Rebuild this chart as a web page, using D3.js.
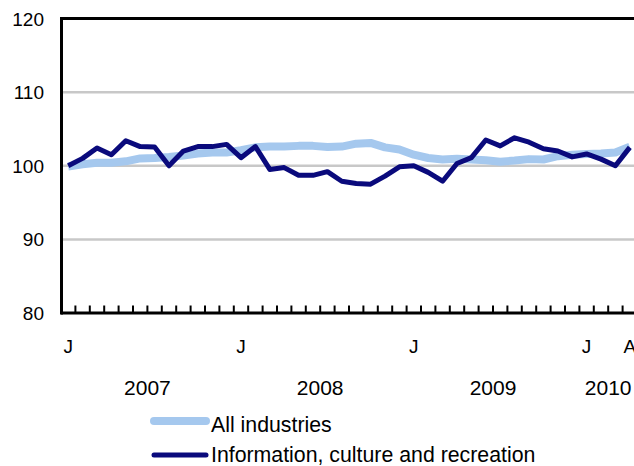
<!DOCTYPE html>
<html>
<head>
<meta charset="utf-8">
<script src="https://cdn.jsdelivr.net/npm/d3@7"></script>
<style>
  html, body { margin: 0; padding: 0; background: #fff; }
  svg { display: block; }
  text { font-family: "Liberation Sans", Arial, Helvetica, sans-serif; fill: #000; }
</style>
</head>
<body>
<svg id="chart" width="634" height="466"></svg>
<script>
// ---- Data ----
const months = [
  "2007-01","2007-02","2007-03","2007-04","2007-05","2007-06","2007-07","2007-08","2007-09","2007-10","2007-11","2007-12",
  "2008-01","2008-02","2008-03","2008-04","2008-05","2008-06","2008-07","2008-08","2008-09","2008-10","2008-11","2008-12",
  "2009-01","2009-02","2009-03","2009-04","2009-05","2009-06","2009-07","2009-08","2009-09","2009-10","2009-11","2009-12",
  "2010-01","2010-02","2010-03","2010-04"
];
const allIndustries = [
  99.9, 100.2, 100.4, 100.4, 100.6, 101.0, 101.05, 101.2, 101.4, 101.65, 101.8, 101.8,
  102.1, 102.5, 102.6, 102.6, 102.7, 102.7, 102.55, 102.6, 103.0, 103.1, 102.5, 102.2,
  101.5, 101.05, 100.85, 100.95, 100.85, 100.75, 100.55, 100.7, 100.9, 100.85, 101.3, 101.5,
  101.6, 101.65, 101.8, 102.6
];
const infoCultureRecreation = [
  100.0, 101.0, 102.4, 101.5, 103.4, 102.6, 102.55, 100.0, 102.0, 102.6, 102.6, 102.9,
  101.1, 102.6, 99.5, 99.75, 98.7, 98.7, 99.2, 97.9, 97.6, 97.5, 98.6, 99.85,
  100.0, 99.1, 97.9, 100.3, 101.1, 103.5, 102.7, 103.8, 103.2, 102.3, 102.0, 101.2,
  101.6, 100.9, 100.0, 102.5
];
const yTicks = [80, 90, 100, 110, 120];
const labelledMonths = ["2007-01", "2008-01", "2009-01", "2010-01", "2010-04"];
const labelledMonthText = ["J", "J", "J", "J", "A"];
const years = ["2007", "2008", "2009", "2010"];
const seriesNames = ["All industries", "Information, culture and recreation"];
const seriesColors = ["#a5c8ee", "#0a0a7c"];

// ---- Layout ----
const svg = d3.select("#chart");
const plotLeft = 61, bandW = 14.4;
const plotRight = plotLeft + months.length * bandW;
const plotTop = 18.5, plotBottom = 313;

const x = d3.scaleBand().domain(months).range([plotLeft, plotRight]).padding(0);
const y = d3.scaleLinear().domain([80, 120]).range([plotBottom, plotTop]);
const cx = m => x(m) + x.bandwidth() / 2;

// gridlines
svg.append("g").selectAll("line")
  .data(yTicks.filter(t => t > 80 && t < 120))
  .join("line")
  .attr("x1", plotLeft).attr("x2", plotRight)
  .attr("y1", d => y(d)).attr("y2", d => y(d))
  .attr("stroke", "#c8c8c8").attr("stroke-width", 2.5);

// top border
svg.append("line")
  .attr("x1", plotLeft).attr("x2", plotRight)
  .attr("y1", y(120)).attr("y2", y(120))
  .attr("stroke", "#000").attr("stroke-width", 3);

// y labels
svg.append("g").selectAll("text")
  .data(yTicks).join("text")
  .attr("x", 44).attr("y", d => y(d) + 7)
  .attr("text-anchor", "end")
  .style("font-size", "19px")
  .text(d => d);

// series lines
const lineGen = d3.line().x((d, i) => cx(months[i])).y(d => y(d));
[allIndustries, infoCultureRecreation].forEach((s, k) => {
  svg.append("path")
    .datum(s)
    .attr("d", lineGen)
    .attr("fill", "none")
    .attr("stroke", seriesColors[k])
    .attr("stroke-width", k === 0 ? 8 : 5)
    .attr("stroke-linejoin", "round");
});

// x ticks (band boundaries, pointing up)
svg.append("g").selectAll("line")
  .data(months.slice(1))
  .join("line")
  .attr("x1", d => x(d)).attr("x2", d => x(d))
  .attr("y1", plotBottom).attr("y2", plotBottom - 7.5)
  .attr("stroke", "#000").attr("stroke-width", 2);

// axes lines
svg.append("line")
  .attr("x1", plotLeft).attr("x2", plotRight)
  .attr("y1", plotBottom).attr("y2", plotBottom)
  .attr("stroke", "#000").attr("stroke-width", 3);
svg.append("line")
  .attr("x1", plotLeft + 0.5).attr("x2", plotLeft + 0.5)
  .attr("y1", plotTop - 1.5).attr("y2", plotBottom + 1.5)
  .attr("stroke", "#000").attr("stroke-width", 3);

// month labels
svg.append("g").selectAll("text")
  .data(labelledMonths).join("text")
  .attr("x", d => cx(d)).attr("y", 353)
  .attr("text-anchor", "middle")
  .style("font-size", "19px")
  .text((d, i) => labelledMonthText[i]);

// year labels
svg.append("g").selectAll("text")
  .data(years).join("text")
  .attr("x", yr => {
    const ms = months.filter(m => m.startsWith(yr));
    return (x(ms[0]) + x(ms[ms.length - 1]) + x.bandwidth()) / 2;
  })
  .attr("y", 395)
  .attr("text-anchor", "middle")
  .style("font-size", "21px")
  .text(d => d);

// legend
const legY = [421, 455];
seriesNames.forEach((name, k) => {
  svg.append("line")
    .attr("x1", 154).attr("x2", 206)
    .attr("y1", legY[k]).attr("y2", legY[k])
    .attr("stroke", seriesColors[k])
    .attr("stroke-width", k === 0 ? 8 : 5)
    .attr("stroke-linecap", "round");
  svg.append("text")
    .attr("x", 211).attr("y", k === 0 ? 431.5 : 461.5)
    .style("font-size", "21.3px")
    .text(name);
});
</script>
</body>
</html>
